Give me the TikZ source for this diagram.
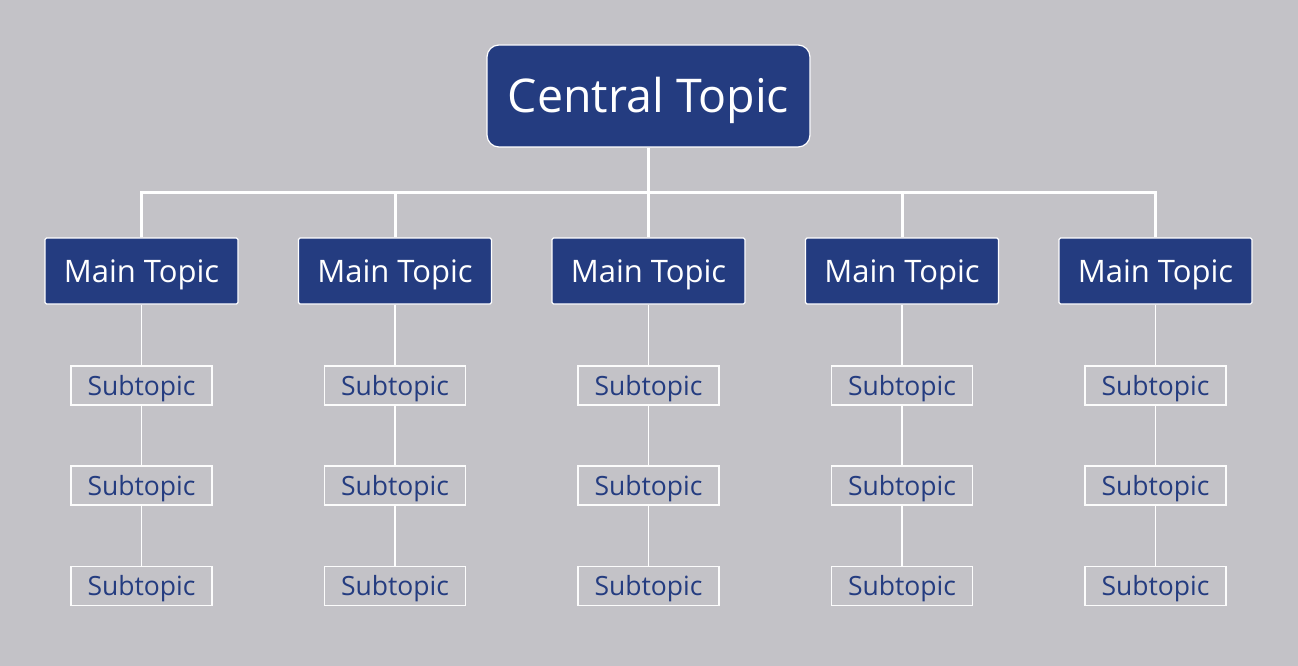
\documentclass[tikz,border=0pt]{standalone}
\usepackage{fontspec}
\setmainfont{Open Sans}
\usepackage{tikz}
\usetikzlibrary{positioning}

\definecolor{navy}{HTML}{243C80}
\definecolor{paper}{HTML}{C3C2C7}

\begin{document}
\begin{tikzpicture}[x=1pt, y=-1pt,
    central/.style={draw=white, line width=1.2pt, fill=navy, text=white, rounded corners=12pt,
      minimum width=323pt, minimum height=102pt, text height=33pt, text depth=0pt,
      font=\fontsize{46.5}{54}\selectfont},
    maintopic/.style={draw=white, line width=1.2pt, fill=navy, text=white, rounded corners=1.5pt,
      minimum width=193pt, minimum height=66pt, text height=22pt, text depth=0pt,
      font=\fontsize{31}{37}\selectfont},
    subtopic/.style={draw=white!95!paper, line width=1.6pt, text=navy,
      minimum width=141pt, minimum height=39pt, text height=19pt, text depth=0pt,
      font=\fontsize{26.5}{31}\selectfont},
    trunk/.style={draw=white, line width=3pt},
    twig/.style={draw=white, line width=1.5pt}]
  \fill[paper] (0,0) rectangle (1298,666);
  \useasboundingbox (0,0) rectangle (1298,666);

  \path (648.5,96) node[central](central){Central Topic};
  \coordinate (bar) at (648.5,192);

  \path
  (141.5,271) node[maintopic](main1){Main Topic}
  (141.5,385.5) node[subtopic](sub11){Subtopic}
  (141.5,485.5) node[subtopic](sub12){Subtopic}
  (141.5,586) node[subtopic](sub13){Subtopic};
  \draw[twig] (main1) -- (sub11) -- (sub12) -- (sub13);

  \path
  (395,271) node[maintopic](main2){Main Topic}
  (395,385.5) node[subtopic](sub21){Subtopic}
  (395,485.5) node[subtopic](sub22){Subtopic}
  (395,586) node[subtopic](sub23){Subtopic};
  \draw[twig] (main2) -- (sub21) -- (sub22) -- (sub23);

  \path
  (648.5,271) node[maintopic](main3){Main Topic}
  (648.5,385.5) node[subtopic](sub31){Subtopic}
  (648.5,485.5) node[subtopic](sub32){Subtopic}
  (648.5,586) node[subtopic](sub33){Subtopic};
  \draw[twig] (main3) -- (sub31) -- (sub32) -- (sub33);

  \path
  (902,271) node[maintopic](main4){Main Topic}
  (902,385.5) node[subtopic](sub41){Subtopic}
  (902,485.5) node[subtopic](sub42){Subtopic}
  (902,586) node[subtopic](sub43){Subtopic};
  \draw[twig] (main4) -- (sub41) -- (sub42) -- (sub43);

  \path
  (1155.5,271) node[maintopic](main5){Main Topic}
  (1155.5,385.5) node[subtopic](sub51){Subtopic}
  (1155.5,485.5) node[subtopic](sub52){Subtopic}
  (1155.5,586) node[subtopic](sub53){Subtopic};
  \draw[twig] (main5) -- (sub51) -- (sub52) -- (sub53);

  \draw[trunk] (central) -- (bar);
  \draw[trunk] (bar) -| (main1.north);
  \draw[trunk] (bar) -| (main2.north);
  \draw[trunk] (bar) -- (main3.north);
  \draw[trunk] (bar) -| (main4.north);
  \draw[trunk] (bar) -| (main5.north);
\end{tikzpicture}
\end{document}
